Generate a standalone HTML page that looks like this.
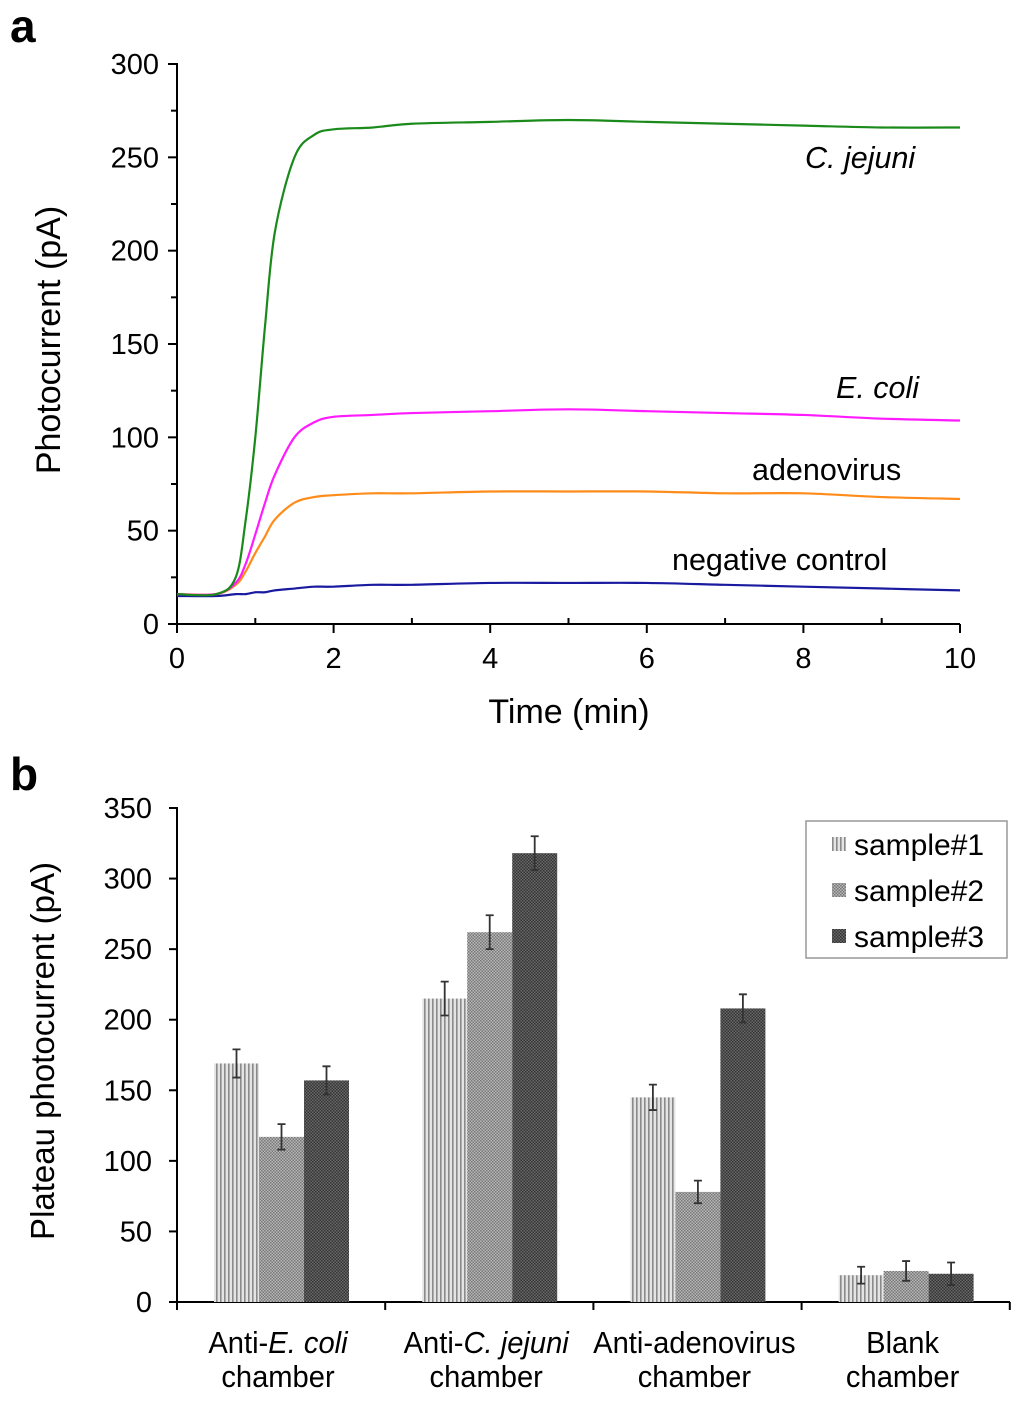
<!DOCTYPE html>
<html><head><meta charset="utf-8"><style>
body{margin:0;background:#fff}
svg{display:block;font-family:"Liberation Sans",Arial,sans-serif}
</style></head><body>
<svg width="1024" height="1401" viewBox="0 0 1024 1401" xmlns="http://www.w3.org/2000/svg">
<defs>
<pattern id="p1" width="4" height="4" patternUnits="userSpaceOnUse"><rect width="4" height="4" fill="#e4e4e4"/><rect width="1.6" height="4" fill="#8a8a8a"/></pattern>
<pattern id="p2" width="3" height="3" patternUnits="userSpaceOnUse"><rect width="3" height="3" fill="#b8b8b8"/><rect width="1.5" height="1.5" fill="#777"/><rect x="1.5" y="1.5" width="1.5" height="1.5" fill="#777"/></pattern>
<pattern id="p3" width="3" height="3" patternUnits="userSpaceOnUse"><rect width="3" height="3" fill="#6a6a6a"/><rect width="1.5" height="1.5" fill="#333"/><rect x="1.5" y="1.5" width="1.5" height="1.5" fill="#333"/></pattern>
</defs>
<text x="10" y="42" font-size="46" font-weight="bold">a</text>
<text x="10" y="790" font-size="46" font-weight="bold">b</text>
<g id="chartA"></g>
<g id="chartB"></g>
</svg>
<script>
const NS="http://www.w3.org/2000/svg";
function mk(p,tag,attrs,txt){const e=document.createElementNS(NS,tag);for(const k in attrs)e.setAttribute(k,attrs[k]);if(txt!==undefined)e.textContent=txt;p.appendChild(e);return e;}

// ---- Panel a data ----
const times=[0,0.5,0.75,0.875,1,1.125,1.25,1.5,1.75,2,2.5,3,4,5,6,7,8,9,10];
const cjejuni=[16,16,25,55,100,160,210,250,262,265,266,268,269,270,269,268,267,266,266];
const ecoli=[16,16,22,32,48,65,80,100,108,111,112,113,114,115,114,113,112,110,109];
const adeno=[16,16,21,28,38,47,56,65,68,69,70,70,71,71,71,70,70,68,67];
const negctl=[15,15,16,16,17,17,18,19,20,20,21,21,22,22,22,21,20,19,18];
const xTicksA=[0,2,4,6,8,10];
const yTicksA=[0,50,100,150,200,250,300];

const A=document.getElementById('chartA');
const ax=t=>177+t*78.3, ay=v=>624-v*560/300;
function smooth(xs,ys){let d=`M${xs[0]},${ys[0]}`;for(let i=0;i<xs.length-1;i++){const x0=xs[Math.max(0,i-1)],y0=ys[Math.max(0,i-1)],x1=xs[i],y1=ys[i],x2=xs[i+1],y2=ys[i+1],x3=xs[Math.min(xs.length-1,i+2)],y3=ys[Math.min(xs.length-1,i+2)];d+=` C${x1+(x2-x0)/6},${y1+(y2-y0)/6} ${x2-(x3-x1)/6},${y2-(y3-y1)/6} ${x2},${y2}`;}return d;}
let e;
e=mk(A,'line',{x1:177,y1:624,x2:960,y2:624,stroke:'#000','stroke-width':2});

e=mk(A,'line',{x1:177,y1:624,x2:177,y2:63,stroke:'#000','stroke-width':2});

for(let i=0;i<=10;i++){const x=ax(i);
 if(i%2==0){mk(A,'line',{x1:x,y1:624,x2:x,y2:633,stroke:'#000','stroke-width':2});}
 else mk(A,'line',{x1:x,y1:624,x2:x,y2:618,stroke:'#000','stroke-width':2});}
xTicksA.forEach(t=>{e=mk(A,'text',{x:ax(t),y:668,'font-size':29,'text-anchor':'middle'},String(t));
 });
for(let v=0;v<=300;v+=25){const y=ay(v);mk(A,'line',{x1:v%50==0?168:171,y1:y,x2:177,y2:y,stroke:'#000','stroke-width':2});}
yTicksA.forEach(v=>{e=mk(A,'text',{x:159,y:ay(v)+10,'font-size':29,'text-anchor':'end'},String(v));
 });
e=mk(A,'text',{x:569,y:723,'font-size':34,'text-anchor':'middle'},'Time (min)');

e=mk(A,'text',{transform:'translate(60,340) rotate(-90)','font-size':34,'text-anchor':'middle'},'Photocurrent (pA)');

const series=[[negctl,'#1a1aa0','negative-control-line'],[adeno,'#ff8c1a','adenovirus-line'],[ecoli,'#ff1aff','e-coli-line'],[cjejuni,'#1a8a1a','c-jejuni-line']];
series.forEach(s=>{e=mk(A,'path',{d:smooth(times.map(ax),s[0].map(ay)),fill:'none',stroke:s[1],'stroke-width':2.2});
 });
const labs=[[805,168,'C. jejuni',true,'c-jejuni-label'],[836,398,'E. coli',true,'e-coli-label'],[752,480,'adenovirus',false,'adenovirus-label'],[672,570,'negative control',false,'negative-control-label']];
labs.forEach(l=>{e=mk(A,'text',{x:l[0],y:l[1],'font-size':30.5,'font-style':l[3]?'italic':'normal'},l[2]);
 });

// ---- Panel b data ----
const groups=['Anti-E. coli','Anti-C. jejuni','Anti-adenovirus','Blank'];
const sample1=[169,215,145,19];
const sample2=[117,262,78,22];
const sample3=[157,318,208,20];
const err1=[10,12,9,6];
const err2=[9,12,8,7];
const err3=[10,12,10,8];
const yTicksB=[0,50,100,150,200,250,300,350];

const B=document.getElementById('chartB');
const by=v=>1302-v*494/350;
const gx=i=>177+i*208.2;
e=mk(B,'line',{x1:177,y1:1302,x2:1010,y2:1302,stroke:'#000','stroke-width':2});

e=mk(B,'line',{x1:177,y1:1302,x2:177,y2:807,stroke:'#000','stroke-width':2});

for(let i=0;i<=4;i++)mk(B,'line',{x1:gx(i),y1:1302,x2:gx(i),y2:1310,stroke:'#000','stroke-width':2});
yTicksB.forEach(v=>{mk(B,'line',{x1:169,y1:by(v),x2:177,y2:by(v),stroke:'#000','stroke-width':2});
 e=mk(B,'text',{x:152,y:by(v)+10,'font-size':29,'text-anchor':'end'},String(v));
 });
e=mk(B,'text',{transform:'translate(54,1051) rotate(-90)','font-size':33,'text-anchor':'middle'},'Plateau photocurrent (pA)');

const sets=[[sample1,err1,'url(#p1)','sample1'],[sample2,err2,'url(#p2)','sample2'],[sample3,err3,'url(#p3)','sample3']];
groups.forEach((g,i)=>{sets.forEach((s,j)=>{const x=gx(i)+37+j*45,v=s[0][i],er=s[1][i];
 e=mk(B,'rect',{x:x,y:by(v),width:45,height:1302-by(v),fill:s[2]});
 
 const cx=x+22.5;
 e=mk(B,'path',{d:`M${cx},${by(v+er)}V${by(v-er)}M${cx-4},${by(v+er)}H${cx+4}M${cx-4},${by(v-er)}H${cx+4}`,stroke:'#333','stroke-width':1.8,fill:'none'});
 });
 const c=gx(i)+101;
 const t=mk(B,'text',{x:c,y:1353,'font-size':31,'text-anchor':'middle',transform:`translate(${c*0.06},0) scale(0.94,1)`});
 
 if(i==0){t.appendChild(document.createTextNode('Anti-'));mk(t,'tspan',{'font-style':'italic'},'E. coli');}
 else if(i==1){t.appendChild(document.createTextNode('Anti-'));mk(t,'tspan',{'font-style':'italic'},'C. jejuni');}
 else t.textContent=g;
 const t2=mk(B,'text',{x:c,y:1387,'font-size':31,'text-anchor':'middle',transform:`translate(${c*0.06},0) scale(0.94,1)`},'chamber');
 
});
const lg=mk(B,'g',{});

mk(lg,'rect',{x:806,y:821,width:201,height:137,fill:'#fff',stroke:'#999','stroke-width':1.5});
sets.forEach((s,j)=>{const y=844+j*46;
 mk(lg,'rect',{x:832,y:y-7,width:14,height:14,fill:s[2]});
 e=mk(lg,'text',{x:854,y:y+11,'font-size':30},'sample#'+(j+1));
 });
</script>
</body></html>
